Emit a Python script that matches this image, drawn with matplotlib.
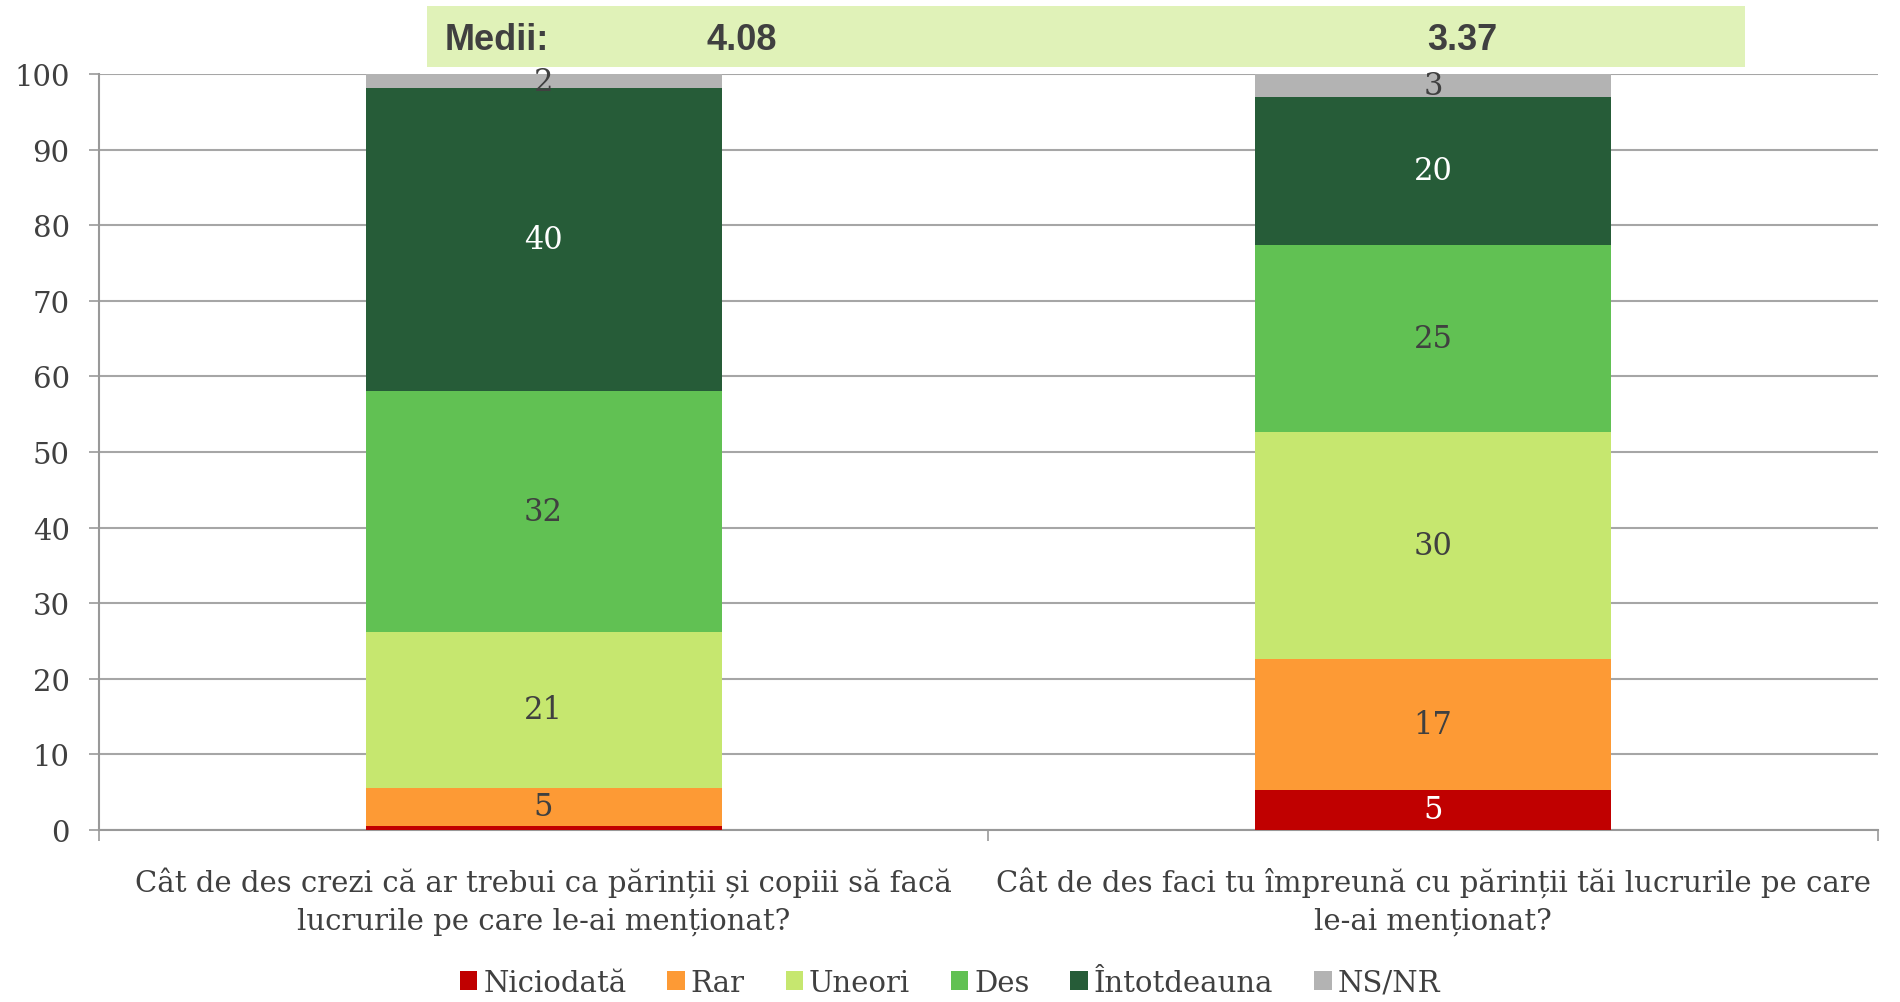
import matplotlib.pyplot as plt
import numpy as np

categories = ["Cât de des crezi că ar trebui ca părinții și copiii să facă\nlucrurile pe care le-ai menționat?",
              "Cât de des faci tu împreună cu părinții tăi lucrurile pe care\nle-ai menționat?"]
series = ["Niciodată", "Rar", "Uneori", "Des", "Întotdeauna", "NS/NR"]
values = {
    "Niciodată":   [0.5, 5.3],
    "Rar":         [5.1, 17.3],
    "Uneori":      [20.6, 30.0],
    "Des":         [31.9, 24.8],
    "Întotdeauna": [40.0, 19.6],
    "NS/NR":       [1.9, 3.0],
}
means = ["4.08", "3.37"]

colors = ["#C00000", "#FD9A35", "#C6E76F", "#61C153", "#265C38", "#B3B3B3"]
text_colors = ["white", "#404040", "#404040", "#404040", "white", "#404040"]

plt.rcParams['font.family'] = ['DejaVu Serif']

fig = plt.figure(figsize=(19, 10.03), dpi=100)
ax = fig.add_axes([0.052, 0.1715, 0.9364, 0.7537])

x = np.arange(len(categories))
bottom = np.zeros(len(categories))
for s, c, tc in zip(series, colors, text_colors):
    v = np.array(values[s])
    ax.bar(x, v, width=0.4, bottom=bottom, color=c, label=s, zorder=3)
    for xi, vi, bi in zip(x, v, bottom):
        if vi >= 1:
            ax.text(xi, bi + vi / 2, "%.0f" % vi, ha="center", va="center",
                    fontsize=22, color=tc, zorder=4)
    bottom += v

ax.set_xlim(-0.5, 1.5)
ax.set_ylim(0, 100)
ax.set_yticks(range(0, 101, 10))
ax.tick_params(axis="y", labelsize=21, labelcolor="#404040", length=7, width=1.2,
               color="#999999", pad=14)
ax.yaxis.grid(True, color="#A6A6A6", linewidth=1.5, zorder=0)
ax.set_xticks([-0.5, 0.5, 1.5])
ax.set_xticklabels([])
ax.set_xticks(x, minor=True)
ax.set_xticklabels(categories, minor=True, fontsize=21, color="#404040", linespacing=1.45)
ax.tick_params(axis="x", which="major", length=8, width=1.2, color="#999999")
ax.tick_params(axis="x", which="minor", length=0, pad=26)
for sp in ["top", "right"]:
    ax.spines[sp].set_visible(False)
for sp in ["left", "bottom"]:
    ax.spines[sp].set_color("#999999")
    ax.spines[sp].set_linewidth(1.5)

# means box
box = fig.add_axes([427 / 1900, 1 - 68 / 1003, (1745 - 427) / 1900, 61 / 1003])
box.set_facecolor("#E0F2B8")
box.set_xticks([])
box.set_yticks([])
for sp in box.spines.values():
    sp.set_visible(False)
mfont = dict(family=["Liberation Sans Narrow", "Liberation Sans", "DejaVu Sans"],
             fontweight="bold", fontsize=26, color="#404040", va="center")
mean_x = [742, 1462]
fig.text(445 / 1900, 1 - 40 / 1003, "Medii:", ha="left", **mfont)
for px, m in zip(mean_x, means):
    fig.text(px / 1900, 1 - 40 / 1003, m, ha="center", **mfont)

leg = fig.legend(loc="center", bbox_to_anchor=(0.5, 1 - 984 / 1003), ncol=6,
                 frameon=False, fontsize=21, handlelength=0.6, handleheight=0.6,
                 handletextpad=0.2, columnspacing=1.4)
for t in leg.get_texts():
    t.set_color("#404040")

fig.savefig("out.png", dpi=100)
